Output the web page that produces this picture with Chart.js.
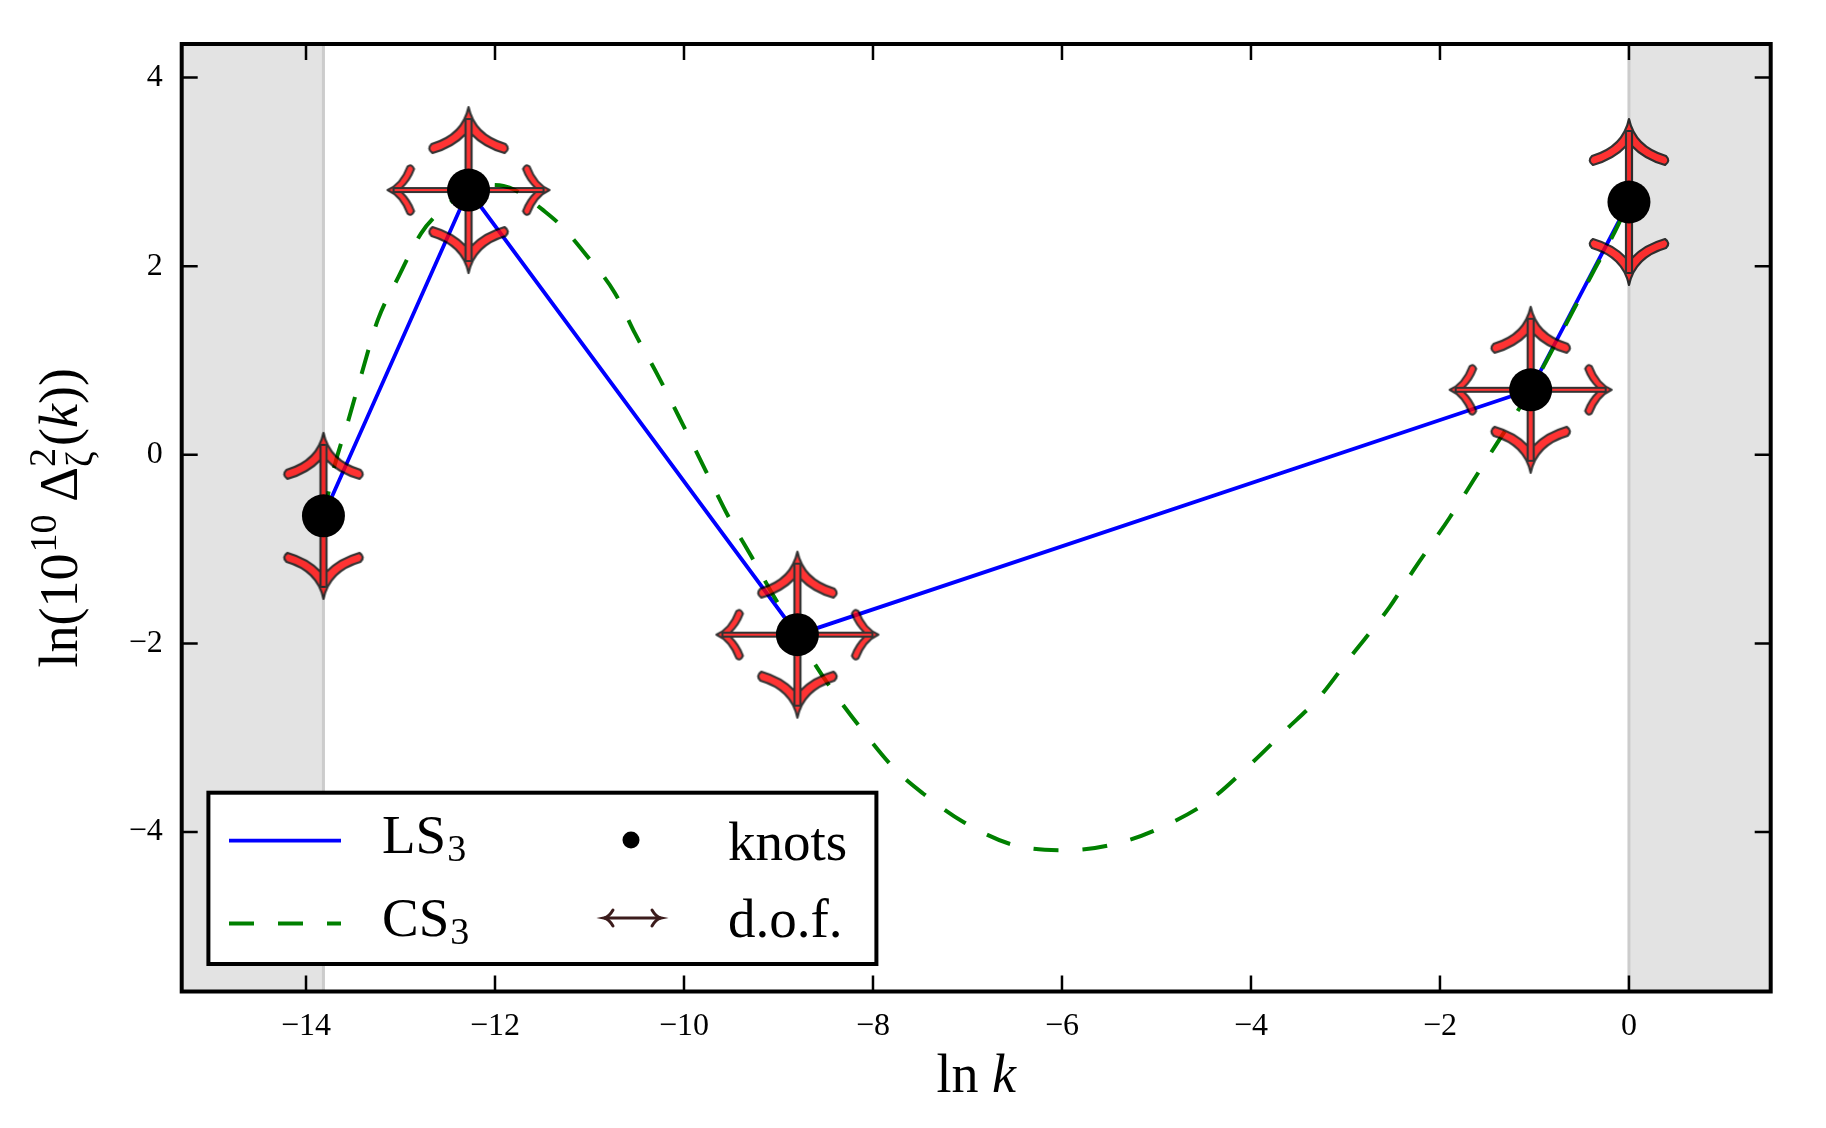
<!DOCTYPE html>
<html><head><meta charset="utf-8">
<script src="https://cdn.jsdelivr.net/npm/chart.js"></script>
<style>html,body{margin:0;padding:0;background:#fff;overflow:hidden}#wrap{width:1826px;height:1128px;position:relative}</style>
</head><body><div id="wrap"><canvas id="c" width="1826" height="1128"></canvas></div>
<script>
// ---------------- data ----------------
const knotX = [-13.8155, -12.28, -8.80, -1.04, 0.0];
const knotY = [-0.647, 2.807, -1.907, 0.689, 2.68];
const dofKind = ['v', 'x', 'x', 'x', 'v'];   // v: vertical d.o.f. only, x: both directions
const csX = [-13.8155,-13.70,-13.55,-13.41,-13.24,-13.02,-12.78,-12.62,-12.28,-12.05,-11.91,-11.79,-11.47,-11.29,-11.05,-10.73,-10.52,-10.27,-10.02,-9.775,-9.53,-9.28,-9.07,-8.80,-8.646,-8.434,-8.117,-7.763,-7.467,-7.035,-6.48,-5.925,-5.37,-4.876,-4.444,-4.013,-3.642,-3.272,-2.964,-2.532,-2.285,-1.9,-1.513,-1.231,-1.04,-0.807,-0.595,-0.383,-0.172,0.0];
const csY = [-0.647,-0.124,0.371,0.865,1.43,1.889,2.35,2.54,2.807,2.86,2.85,2.807,2.577,2.418,2.137,1.713,1.289,0.829,0.336,-0.159,-0.654,-1.09,-1.465,-1.907,-2.17,-2.49,-2.913,-3.337,-3.593,-3.898,-4.146,-4.192,-4.108,-3.917,-3.669,-3.288,-2.927,-2.565,-2.164,-1.612,-1.231,-0.67,-0.06,0.38,0.689,1.12,1.52,1.93,2.32,2.68];
const xTicks = [-14, -12, -10, -8, -6, -4, -2, 0];
const yTicks = [-4, -2, 0, 2, 4];
const xRange = [-15.3155, 1.5];
const yRange = [-5.69, 4.355];
const priorRange = [-13.8155, 0];
const seriesLabels = ['LS₃', 'CS₃', 'knots', 'd.o.f.'];
const xTitleRuns = [['ln', 'rm'], [' ', 'rm'], ['k', 'it']];
const yTitleRuns = [['ln(', 'rm'], ['10', 'rm'], ['10', 'sup'], ['\u2009', 'rm'], ['Δ', 'rm'], [['2', 'ζ'], 'supsub'], ['(', 'rm'], ['k', 'it'], ['))', 'rm']];

// ---------------- helpers ----------------
const FONT = '"Liberation Serif", "DejaVu Serif", serif';
function fmt(v){ return v < 0 ? '\u2212' + Math.abs(v) : String(v); }

// vertical-style arrow (like \uparrow): long curved barbs
function drawArrowV(g, L){
  const T = -L;
  g.lineJoin = 'round'; g.lineWidth = 2.2; g.strokeStyle = '#000'; g.fillStyle = '#ff0000';
  g.beginPath();
  g.moveTo(0, T);
  g.quadraticCurveTo(-6, T + 28, -37, T + 37);
  g.quadraticCurveTo(-42, T + 42, -36, T + 46);
  g.quadraticCurveTo(-15, T + 40, -3, T + 27);
  g.lineTo(3, T + 27);
  g.quadraticCurveTo(15, T + 40, 36, T + 46);
  g.quadraticCurveTo(42, T + 42, 37, T + 37);
  g.quadraticCurveTo(6, T + 28, 0, T);
  g.closePath(); g.fill(); g.stroke();
  g.beginPath(); g.rect(-3, T + 12, 6, L - 12); g.fill(); g.stroke();
}
// horizontal-style arrow (like \rightarrow): short hooked barbs
function drawArrowH(g, L){
  const T = -L;
  g.lineJoin = 'round'; g.lineWidth = 2.1; g.strokeStyle = '#000'; g.fillStyle = '#ff0000';
  g.beginPath();
  g.moveTo(0, T);
  g.quadraticCurveTo(-6, T + 13.5, -23.5, T + 20);
  g.quadraticCurveTo(-27, T + 24, -21, T + 26.5);
  g.quadraticCurveTo(-10, T + 22.5, -2, T + 14);
  g.lineTo(2, T + 14);
  g.quadraticCurveTo(10, T + 22.5, 21, T + 26.5);
  g.quadraticCurveTo(27, T + 24, 23.5, T + 20);
  g.quadraticCurveTo(6, T + 13.5, 0, T);
  g.closePath(); g.fill(); g.stroke();
  g.beginPath(); g.rect(-2, T + 6, 4, L - 6); g.fill(); g.stroke();
}
function makeArrowCanvas(kind){
  const S = 200;
  const tmp = document.createElement('canvas'); tmp.width = S; tmp.height = S;
  const g = tmp.getContext('2d'); g.translate(S / 2, S / 2);
  const dirs = kind === 'x'
    ? [[Math.PI / 2, 81, 'h'], [-Math.PI / 2, 81, 'h'], [0, 83, 'v'], [Math.PI, 83, 'v']]
    : [[0, 83, 'v'], [Math.PI, 83, 'v']];
  for (const [a, L, t] of dirs){ g.save(); g.rotate(a); (t === 'v' ? drawArrowV : drawArrowH)(g, L); g.restore(); }
  const c = document.createElement('canvas'); c.width = S; c.height = S;
  const cg = c.getContext('2d'); cg.globalAlpha = 0.8; cg.drawImage(tmp, 0, 0);
  return c;
}
const arrowImgs = { v: makeArrowCanvas('v'), x: makeArrowCanvas('x') };

function runFont(kind, size){
  if (kind === 'it') return `italic ${size}px ${FONT}`;
  if (kind === 'sup' || kind === 'sub' || kind === 'supsub') return `${Math.round(size * 0.7)}px ${FONT}`;
  return `${size}px ${FONT}`;
}
function runsWidth(ctx, runs, size){
  let w = 0;
  for (const [t, k] of runs){
    ctx.font = runFont(k, size);
    if (k === 'supsub') w += Math.max(ctx.measureText(t[0]).width, ctx.measureText(t[1]).width) + 2;
    else w += ctx.measureText(t).width + (k === 'sup' ? 3 : 0);
  }
  return w;
}
function drawRuns(ctx, runs, size, x0){
  let x = x0;
  ctx.textBaseline = 'alphabetic'; ctx.textAlign = 'left';
  for (const [t, k] of runs){
    ctx.font = runFont(k, size);
    if (k === 'supsub'){
      ctx.fillText(t[0], x, -size * 0.40);
      ctx.fillText(t[1], x, size * 0.28);
      x += Math.max(ctx.measureText(t[0]).width, ctx.measureText(t[1]).width) + 2;
    } else if (k === 'sup'){
      ctx.fillText(t, x + 1, -size * 0.38);
      x += ctx.measureText(t).width + 3;
    } else {
      ctx.fillText(t, x, 0);
      x += ctx.measureText(t).width;
    }
  }
}

// ---------------- plugins ----------------
const shadePlugin = {
  id: 'shade',
  beforeDatasetsDraw(chart){
    const {ctx, chartArea: a, scales: {x}} = chart;
    const x1 = x.getPixelForValue(priorRange[0]), x2 = x.getPixelForValue(priorRange[1]);
    ctx.save();
    ctx.fillStyle = '#e3e3e3';
    ctx.fillRect(a.left, a.top, x1 - a.left, a.bottom - a.top);
    ctx.fillRect(x2, a.top, a.right - x2, a.bottom - a.top);
    ctx.strokeStyle = '#cccccc'; ctx.lineWidth = 3;
    ctx.beginPath(); ctx.moveTo(x1, a.top); ctx.lineTo(x1, a.bottom); ctx.moveTo(x2, a.top); ctx.lineTo(x2, a.bottom); ctx.stroke();
    ctx.restore();
  }
};
const framePlugin = {
  id: 'frame',
  afterDatasetsDraw(chart){
    const {ctx, chartArea: a, scales: {x, y}} = chart;
    ctx.save();
    ctx.strokeStyle = '#000'; ctx.lineWidth = 2.5; ctx.lineCap = 'butt';
    ctx.beginPath();
    for (const v of xTicks){
      const p = x.getPixelForValue(v);
      ctx.moveTo(p, a.bottom); ctx.lineTo(p, a.bottom - 16);
      ctx.moveTo(p, a.top); ctx.lineTo(p, a.top + 16);
    }
    for (const v of yTicks){
      const p = y.getPixelForValue(v);
      ctx.moveTo(a.left, p); ctx.lineTo(a.left + 16, p);
      ctx.moveTo(a.right, p); ctx.lineTo(a.right - 16, p);
    }
    ctx.stroke();
    ctx.lineWidth = 4; ctx.lineJoin = 'miter';
    ctx.strokeRect(a.left, a.top, a.right - a.left, a.bottom - a.top);
    ctx.restore();
  }
};
const titlesPlugin = {
  id: 'titles',
  afterDraw(chart){
    const {ctx, chartArea: a} = chart;
    ctx.save(); ctx.fillStyle = '#000';
    const s = 54;
    let w = runsWidth(ctx, xTitleRuns, s);
    ctx.save(); ctx.translate((a.left + a.right) / 2, 1092); drawRuns(ctx, xTitleRuns, s, -w / 2); ctx.restore();
    w = runsWidth(ctx, yTitleRuns, s);
    ctx.save(); ctx.translate(77, (a.top + a.bottom) / 2); ctx.rotate(-Math.PI / 2); drawRuns(ctx, yTitleRuns, s, -w / 2); ctx.restore();
    ctx.restore();
  }
};
const legendPlugin = {
  id: 'boxLegend',
  afterDraw(chart){
    const ctx = chart.ctx;
    const ds = chart.data.datasets;
    const box = {l: 208.4, t: 792.7, r: 876.4, b: 964};
    ctx.save();
    ctx.fillStyle = '#fff'; ctx.fillRect(box.l, box.t, box.r - box.l, box.b - box.t);
    ctx.strokeStyle = '#000'; ctx.lineWidth = 4; ctx.strokeRect(box.l, box.t, box.r - box.l, box.b - box.t);
    const rowsY = [840.7, 923.5];
    const baseY = [[853, 936], [860, 937]];
    const colHandle = [[229, 341], [603, 662]];
    const colText = [382, 728];
    ds.forEach((d, i) => {
      const col = Math.floor(i / 2), row = i % 2;
      const hy = rowsY[row], [hx1, hx2] = colHandle[col];
      ctx.save();
      if (d.showLine){
        ctx.strokeStyle = d.borderColor; ctx.lineWidth = d.borderWidth;
        ctx.setLineDash(d.borderDash || []);
        ctx.beginPath(); ctx.moveTo(hx1, hy); ctx.lineTo(hx2, hy); ctx.stroke();
      } else if (d.pointStyle === 'circle'){
        ctx.fillStyle = d.backgroundColor;
        ctx.beginPath(); ctx.arc(631, hy - 0.7, 8.5, 0, Math.PI * 2); ctx.fill();
      } else {
        const c = 'rgb(60,28,28)';
        ctx.strokeStyle = c; ctx.lineWidth = 3; ctx.lineCap = 'round';
        const yy = hy - 5.5;
        ctx.beginPath(); ctx.moveTo(hx1 + 2, yy); ctx.lineTo(hx2 - 2, yy); ctx.stroke();
        ctx.beginPath();
        ctx.moveTo(hx1 + 10, yy - 8); ctx.quadraticCurveTo(hx1 + 6, yy - 1, hx1 + 1, yy);
        ctx.quadraticCurveTo(hx1 + 6, yy + 1, hx1 + 10, yy + 8);
        ctx.moveTo(hx2 - 10, yy - 8); ctx.quadraticCurveTo(hx2 - 6, yy - 1, hx2 - 1, yy);
        ctx.quadraticCurveTo(hx2 - 6, yy + 1, hx2 - 10, yy + 8);
        ctx.stroke();
      }
      ctx.restore();
      ctx.fillStyle = '#000'; ctx.textBaseline = 'alphabetic'; ctx.textAlign = 'left';
      const lab = d.label;
      const m = lab.match(/^(.*?)([₀-₉])$/);
      const tx = colText[col], ty = baseY[col][row];
      ctx.font = `55px ${FONT}`;
      if (m){
        ctx.fillText(m[1], tx, ty);
        const bw = ctx.measureText(m[1]).width;
        ctx.font = `38px ${FONT}`;
        ctx.fillText(String(m[2].charCodeAt(0) - 0x2080), tx + bw + 1, ty + 8);
      } else {
        ctx.fillText(lab, tx, ty);
      }
    });
    ctx.restore();
  }
};

// ---------------- chart ----------------
const pts = (xs, ys) => xs.map((v, i) => ({x: v, y: ys[i]}));
const tickFont = {family: FONT, size: 32};
new Chart(document.getElementById('c'), {
  type: 'scatter',
  data: {
    datasets: [
      {label: seriesLabels[0], data: pts(knotX, knotY), showLine: true, borderColor: '#0000ff', borderWidth: 3.8,
       pointRadius: 0, tension: 0, order: 3},
      {label: seriesLabels[1], data: pts(csX, csY), showLine: true, borderColor: '#008000', borderWidth: 4,
       borderDash: [25, 24], pointRadius: 0, cubicInterpolationMode: 'monotone', order: 2},
      {label: seriesLabels[2], data: pts(knotX, knotY), showLine: false, pointStyle: 'circle', pointRadius: 21.5,
       backgroundColor: '#000000', borderWidth: 0, order: 0},
      {label: seriesLabels[3], data: pts(knotX, knotY), showLine: false, pointStyle: dofKind.map(k => arrowImgs[k]),
       pointRadius: 40, borderWidth: 0, order: 1}
    ]
  },
  options: {
    responsive: false, animation: false, devicePixelRatio: 1, events: [],
    layout: {padding: {left: 0, top: 44, right: 55.3, bottom: 0}},
    plugins: {legend: {display: false}, tooltip: {enabled: false}},
    scales: {
      x: {type: 'linear', min: xRange[0], max: xRange[1],
          grid: {display: false, drawTicks: false}, border: {display: false},
          afterBuildTicks: s => { s.ticks = xTicks.map(v => ({value: v})); },
          afterFit: s => { s.height = 136.5; },
          ticks: {font: tickFont, color: '#000', padding: 16, autoSkip: false, maxRotation: 0, callback: v => fmt(v)}},
      y: {type: 'linear', min: yRange[0], max: yRange[1],
          grid: {display: false, drawTicks: false}, border: {display: false},
          afterBuildTicks: s => { s.ticks = yTicks.map(v => ({value: v})); },
          afterFit: s => { s.width = 181.7; },
          ticks: {font: tickFont, color: '#000', padding: 19, autoSkip: false, callback: v => fmt(v)}}
    }
  },
  plugins: [shadePlugin, framePlugin, titlesPlugin, legendPlugin]
});
</script></body></html>
